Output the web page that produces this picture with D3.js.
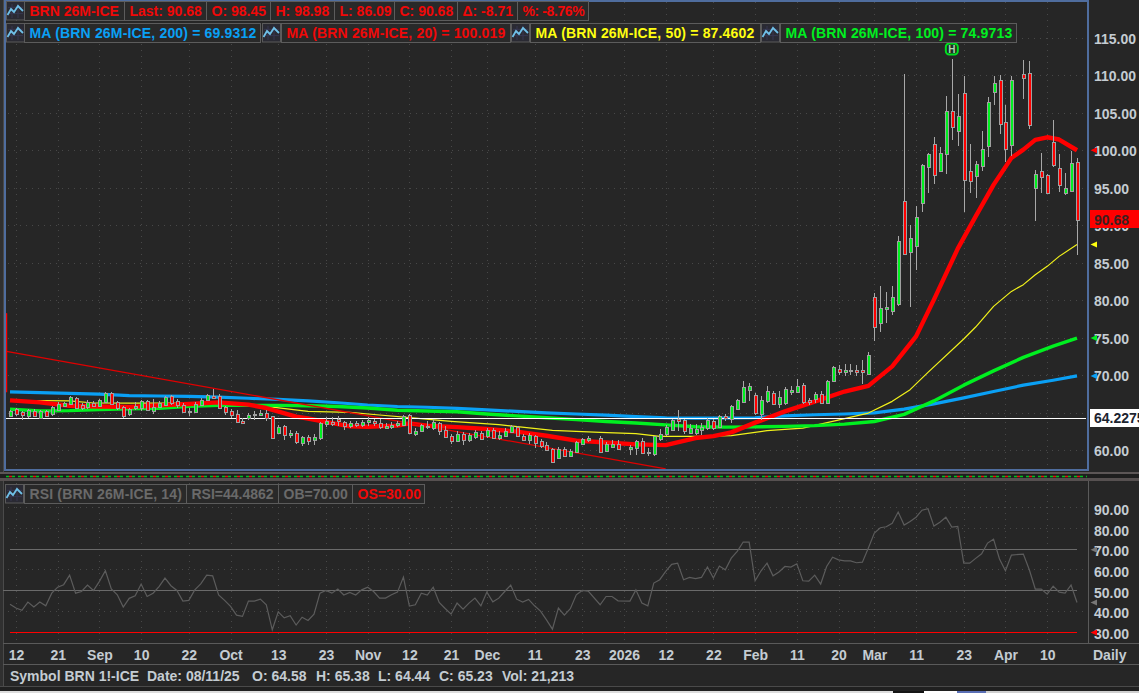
<!DOCTYPE html>
<html><head><meta charset="utf-8">
<style>html,body{margin:0;padding:0;background:#262626;overflow:hidden}svg{display:block}text{font-family:"Liberation Sans",Arial,sans-serif;font-weight:700;font-size:14px}</style>
<script src="https://cdn.jsdelivr.net/npm/d3@7"></script></head><body><svg id="c" width="1139" height="693"></svg>
<script>
const opens=[64.58,65.52,65.12,64.63,65.25,64.36,65.29,64.80,65.43,66.0,
66.23,66.98,66.09,65.83,66.32,65.87,66.49,67.65,66.45,65.78,
64.80,65.65,65.65,66.58,65.20,65.87,66.14,67.20,66.54,66.09,
65.16,65.12,66.0,66.72,67.29,67.20,65.74,65.25,64.85,63.92,
64.32,64.72,64.72,64.98,64.54,62.32,63.2,62.0,62.32,60.98,
61.78,61.34,61.6,63.47,63.74,64.18,63.74,63.29,63.61,63.34,
63.87,63.92,63.65,63.07,63.07,63.34,63.43,64.72,62.14,62.54,
63.12,63.07,63.65,62.76,61.96,61.30,62.23,61.43,61.79,62.32,
61.96,62.76,61.65,61.96,62.45,63.12,61.96,61.43,61.96,61.30,
60.76,60.23,58.99,60.23,59.21,59.83,60.90,61.34,null,61.70,
60.01,60.54,60.90,null,60.23,60.36,61.30,59.65,59.43,61.47,
62.23,62.67,64.19,64.10,62.41,62.41,62.67,62.98,63.96,63.07,
64.58,64.27,65.60,66.54,68.09,67.43,64.80,66.67,67.69,66.18,
66.36,67.83,67.74,68.76,66.76,66.94,67.56,66.32,69.25,70.89,
70.40,70.54,70.72,70.72,70.27,80.45,76.98,78.94,78.54,79.56,
93.25,86.45,87.2,92.98,97.78,100.80,97.2,99.52,105.25,102.54,
107.65,97.25,96.58,97.87,100.58,107.78,109.38,103.74,100.67,null,
110.18,110.32,94.98,97.25,96.72,101.07,97.65,94.32,94.54,98.45];
const closes=[65.23,64.80,64.67,65.38,64.63,65.25,64.63,65.78,66.23,66.36,
67.16,65.69,65.74,66.45,65.87,66.72,67.65,66.18,65.60,64.63,
65.47,65.96,66.58,65.38,65.78,66.36,67.16,66.32,66.0,65.12,
65.29,66.18,66.72,67.38,67.07,65.65,65.12,64.67,63.78,63.65,
64.76,64.89,64.98,64.32,61.65,63.07,62.0,62.32,61.07,61.78,
61.2,61.78,63.65,63.87,63.47,63.92,63.16,63.65,63.34,63.79,
64.10,63.61,63.07,63.30,63.39,63.65,64.63,62.32,62.58,63.34,
63.30,63.83,62.54,61.87,61.34,62.23,61.43,62.10,62.45,61.52,
62.76,61.65,62.10,62.63,63.21,61.87,61.43,62.10,61.07,60.68,
60.05,58.54,60.23,59.34,59.92,61.16,61.56,61.61,null,59.87,
60.90,60.90,60.23,null,60.45,61.25,59.74,59.83,61.87,62.19,
63.12,64.01,63.92,62.67,63.03,62.90,63.07,64.09,63.07,64.54,
64.32,65.96,66.76,68.49,68.58,64.98,66.72,67.96,66.27,67.16,
68.23,68.09,68.58,66.54,66.54,67.56,66.40,69.25,71.12,70.54,
70.72,70.72,70.45,70.40,72.76,76.45,78.98,79.16,80.45,87.92,
86.18,88.32,91.12,98.09,99.52,96.72,99.65,105.25,103.12,104.58,
96.05,95.92,98.14,100.18,106.45,108.98,103.52,100.18,109.38,null,
109.65,103.34,96.85,96.45,94.32,98.0,95.34,94.98,98.32,90.68];
const highs=[65.38,65.65,65.29,65.52,65.52,65.43,65.43,65.87,66.40,66.49,
67.29,67.07,66.32,66.76,66.63,66.85,67.83,67.83,66.63,65.96,
65.65,66.40,66.76,66.72,66.85,66.63,67.29,67.34,66.85,66.32,
65.65,66.40,66.98,67.52,68.23,67.56,65.96,65.47,65.34,64.32,
64.98,65.20,65.34,65.34,64.63,63.43,63.34,62.76,62.63,61.87,
62.09,62.23,63.74,64.45,64.45,64.54,63.92,63.87,63.87,64.01,
64.45,64.23,64.19,63.65,63.74,63.92,64.76,64.81,62.99,63.56,
63.87,64.19,63.79,63.21,62.23,62.54,62.41,62.32,62.67,62.54,
62.99,62.99,62.54,62.99,63.39,63.30,62.23,62.32,62.10,61.52,
61.07,60.32,60.41,60.41,60.19,61.30,61.70,61.87,null,61.87,
61.07,61.43,61.34,null,60.76,61.43,61.65,60.32,61.96,62.90,
63.43,64.19,65.43,64.23,63.56,63.52,63.65,64.32,64.18,64.76,
64.80,66.09,66.89,69.29,68.98,67.65,67.2,68.63,67.96,67.96,
68.45,68.54,69.56,68.98,66.98,67.78,67.87,69.43,71.29,71.43,
71.56,71.56,71.43,72.09,73.16,80.98,81.96,81.12,81.96,88.54,
110.23,90.09,92.54,98.23,99.65,101.78,100.45,107.2,112.23,107.56,
109.96,100.89,98.63,102.63,107.12,109.87,110.09,106.09,109.96,null,
112.09,111.96,97.43,99.65,96.85,104.09,99.56,97.03,99.96,98.98];
const lows=[64.44,64.63,64.09,64.36,64.45,64.27,64.54,64.63,65.34,65.92,
66.09,65.65,65.34,65.52,65.78,65.74,66.40,66.05,65.43,64.36,
64.63,65.34,65.20,65.20,64.89,65.65,65.87,66.09,65.65,64.98,
64.63,64.98,65.87,66.54,66.85,65.52,64.76,64.32,63.65,63.56,
64.09,64.0,64.54,63.87,61.56,62.18,61.43,61.65,60.89,60.54,
60.76,60.76,61.43,63.07,63.2,63.29,62.76,62.98,63.07,63.16,
63.21,63.21,62.90,62.85,62.90,63.12,63.34,62.23,61.96,62.45,
62.90,62.76,62.10,61.65,60.90,61.12,60.68,61.07,61.52,61.34,
61.65,61.52,61.43,61.79,62.32,61.74,61.21,60.90,60.36,60.32,
59.87,58.50,58.85,59.21,59.12,59.65,60.76,61.12,null,59.79,
59.87,60.36,60.10,null,59.43,59.39,59.65,59.30,59.30,61.30,
61.87,62.54,62.54,62.23,62.23,62.10,62.09,62.67,62.76,62.98,
63.87,63.65,65.43,66.45,66.63,64.76,64.09,66.32,66.09,65.65,
66.09,67.43,67.65,66.18,66.09,66.32,66.23,66.23,69.2,70.09,
69.87,70.05,69.96,68.89,70.09,74.54,75.74,76.98,78.09,79.2,
86.09,79.07,84.0,91.74,94.32,95.47,97.2,96.8,101.43,100.54,
91.74,94.32,93.65,97.2,99.12,106.09,102.23,98.41,99.2,null,
106.89,102.85,90.54,94.32,94.23,97.74,94.49,94.05,94.54,86.09];
const rsi=[43.7,41.8,40.7,44.7,42.3,44.7,42.9,49.0,51.9,53.1,
57.7,49.0,49.8,52.9,50.3,54.7,59.8,51.0,48.2,42.3,
46.5,47.7,53.4,47.4,49.0,52.2,56.3,52.6,50.3,45.2,
45.5,50.6,53.5,57.7,57.4,48.2,45.5,42.6,38.4,37.8,
45.2,45.2,46.1,43.4,31.3,40.0,37.1,38.1,33.6,37.4,
35.8,38.9,49,50.3,49,51,48.1,49.4,48.1,50.6,
51.9,49.8,46.6,46.6,48.2,49.5,56.8,42.8,43.4,49,
48.1,51.9,44.5,41.6,38.9,44.2,41.3,44.2,46.6,42.9,
49.5,44.8,46.6,49.8,52.9,46.1,44.7,46,42.9,40.3,
36.1,31.6,41.8,38.4,41.5,48.2,50.3,50,null,43.4,
47.4,47.4,45.3,null,45.2,50.6,44.2,42.9,53.9,55.5,
59.5,62.9,63.5,55.5,56.6,56,56.6,61.6,56.3,62.1,
60.3,65.9,69.2,73.7,73.7,55,59.8,63.5,57.4,59.2,
61.9,61.6,63.2,55,54.8,57.7,53.4,61.9,66.4,65.1,
64.6,64.6,63.7,64,70.8,78,80.6,81.1,82.8,88.2,
81.9,83.6,85.7,89.1,89.8,81.4,83.3,85.7,80.9,81.2,
63.5,63.5,65.8,68,73.2,75.1,65.5,59.8,67.4,null,
67.9,60.3,51,51,48.5,52.4,49.5,49,52.9,44.4862];

const maIdx=[0,5,10,15,20,25,30,35,40,45,50,55,60,65,70,75,80,85,90,95,100,105,110,115,120,125,130,135,140,145,150,155,160,165,170,175,179];
const ma200=[67.8,67.7,67.6,67.5,67.3,67.25,67.2,67.1,66.95,66.8,66.6,66.35,66.05,65.85,65.75,65.6,65.4,65.2,65.0,64.85,64.7,64.5,64.35,64.3,64.32,64.35,64.6,64.75,64.85,65.0,65.5,66.2,67.0,67.85,68.7,69.35,69.9312];
const ma100=[65.5,65.25,65.3,65.45,65.55,65.6,65.87,66.0,66.0,66.0,65.95,65.85,65.65,65.35,65.25,65.15,64.85,64.6,64.35,64.1,63.85,63.65,63.4,63.15,63.1,63.13,63.2,63.3,63.5,63.85,64.8,66.6,68.7,70.6,72.4,73.9,74.9713];
const ma20Idx=[0,5,10,15,20,25,30,35,40,43,48,50,55,57,60,65,67,70,75,80,85,90,95,100,105,110,115,118,121,125,130,135,140,144,148,152,155,159,162,165,168,170,172,174,176,179];
const ma20=[66.67,66.4,65.95,65.85,65.8,66.0,66.18,66.4,66.1,65.65,64.5,64.25,63.5,63.2,63.15,63.3,63.6,63.3,63.1,62.85,62.5,61.95,61.3,61.05,60.8,60.7,61.65,61.9,62.4,63.7,65.2,66.5,67.85,68.6,71.2,75.2,80.1,86.9,91.2,95.4,99.0,100.1,101.4,101.75,101.45,100.019];
const ma50Idx=[0,5,10,14,20,30,34,43,50,57,62,68,74,82,91,99,105,109,116,121,127,133,138,144,148,151,154,160,162,165,168,170,172,174,176,179];
const ma50=[66.63,66.65,66.6,66.32,66.3,66.3,66.4,65.87,65.2,65.07,64.72,64.3,63.87,63.43,62.67,62.41,62.23,61.87,61.87,61.96,62.63,62.98,63.87,64.98,66.54,68.1,70.4,74.85,76.45,79.2,81.2,82.1,83.43,84.54,85.87,87.4602];
const trendIdx=[-0.6,110], trendVal=[73.2,57.55];
const vertIdx=[-0.6,-0.6], vertVal=[78.3,67.75];
const lastLine=64.2275, lastClose=90.68, highBar=158;

const priceTicks=[60,65,70,75,80,85,90,95,100,105,110,115];
const priceLabelTicks=[60,70,75,80,85,90,95,100,105,110,115];
const rsiTicks=[30,40,50,60,70,80,90];
const dateIdx=[1,8,15,22,30,37,45,53,60,67,74,80,88,96,103,110,118,125,132,139,145,152,160,167,174];
const dateLabels=["12","21","Sep","10","22","Oct","13","23","Nov","12","21","Dec","11","23","2026","12","22","Feb","11","20","Mar","11","23","Apr","10"];
const row1=["BRN 26M-ICE","Last: 90.68","O: 98.45","H: 98.98","L: 86.09","C: 90.68","Δ: -8.71","%: -8.76%"];
const row2=["MA (BRN 26M-ICE, 200) = 69.9312","MA (BRN 26M-ICE, 20) = 100.019","MA (BRN 26M-ICE, 50) = 87.4602","MA (BRN 26M-ICE, 100) = 74.9713"];
const row3=["RSI (BRN 26M-ICE, 14)","RSI=44.4862","OB=70.00","OS=30.00"];
const statusParts=["Symbol BRN 1!-ICE","Date: 08/11/25","O: 64.58","H: 65.38","L: 64.44","C: 65.23","Vol: 21,213"];

const RED="#ff0000",GRN="#00ee22",BLU="#0aa0f5",YEL="#ffff10";
const svg=d3.select("#c");
const x=d3.scaleLinear().domain([0,179]).range([10,1077]);
const y=d3.scaleLinear().domain([60,115]).range([450.4,37.9]);
const yr=d3.scaleLinear().domain([30,90]).range([632.5,508.3]);
const bars=d3.range(180).filter(i=>opens[i]!=null);

// window chrome
svg.append("rect").attr("width",1139).attr("height",693).attr("fill","#262626");
const chrome=(a,b,w,h,f)=>svg.append("rect").attr("x",a).attr("y",b).attr("width",w).attr("height",h).attr("fill",f).attr("shape-rendering","crispEdges");
chrome(0,0,3,690,"#303030");chrome(3,0,1,690,"#4a4a4a");
chrome(0,472,1139,2,"#5c5656");chrome(0,474,1139,5,"#1e1e1e");chrome(0,478,1139,3,"#565050");
chrome(3,643,1136,1,"#5a5a5a");chrome(3,664,1136,1,"#5a5a5a");chrome(0,686,1139,1,"#4a4a4a");chrome(0,687,1139,4,"#202020");
chrome(0,691,893,2,"#dcdcdc");chrome(893,691,31,2,"#151515");chrome(924,691,33,2,"#ffffff");chrome(957,691,29,2,"#5a6fb5");chrome(986,691,153,2,"#cfcfcf");

// grids
const grid=svg.append("g").attr("stroke","#484848").attr("stroke-width",1).attr("stroke-dasharray","1 5").attr("shape-rendering","crispEdges");
priceTicks.forEach(t=>grid.append("line").attr("x1",8).attr("x2",1086).attr("y1",Math.round(y(t))+.5).attr("y2",Math.round(y(t))+.5));
[40,60,80,90].forEach(t=>grid.append("line").attr("x1",8).attr("x2",1086).attr("y1",Math.round(yr(t))-.5).attr("y2",Math.round(yr(t))-.5));
dateIdx.forEach(i=>{const p=Math.round(x(i))+.5;
 grid.append("line").attr("x1",p).attr("x2",p).attr("y1",2).attr("y2",468);
 grid.append("line").attr("x1",p).attr("x2",p).attr("y1",483).attr("y2",642);});

// moving averages
const maLine=(idx,val,c,w)=>svg.append("path").datum(idx.map((d,k)=>[d,val[k]])).attr("fill","none").attr("stroke",c).attr("stroke-width",w).attr("stroke-linejoin","round")
  .attr("d",d3.line().x(d=>x(d[0])).y(d=>y(d[1])));
maLine(maIdx,ma200,BLU,3.2);
maLine(ma50Idx,ma50,"#f2f21a",1.2);
maLine(maIdx,ma100,"#00f020",3.4);
maLine(ma20Idx,ma20,RED,4.4);
// trend annotations
maLine(trendIdx,trendVal,"#e00000",1.3);
maLine(vertIdx,vertVal,RED,1.6);
// last line
svg.append("line").attr("x1",6).attr("x2",1086).attr("y1",418.5).attr("y2",418.5).attr("stroke","#fff").attr("stroke-width",1).attr("shape-rendering","crispEdges");

// candles
const cg=svg.append("g").attr("shape-rendering","crispEdges");
cg.selectAll("line").data(bars).join("line").attr("x1",i=>Math.round(x(i))+.5).attr("x2",i=>Math.round(x(i))+.5)
  .attr("y1",i=>y(highs[i])).attr("y2",i=>y(lows[i])).attr("stroke","#a8a8a8").attr("stroke-width",1);
cg.selectAll("rect").data(bars).join("rect").attr("x",i=>Math.round(x(i))-1).attr("width",3)
  .attr("y",i=>Math.round(y(Math.max(opens[i],closes[i])))+.5).attr("height",i=>Math.max(1,Math.round(Math.abs(opens[i]-closes[i])*7.5)))
  .attr("fill",i=>closes[i]>=opens[i]?"#00f020":"#ff0000").attr("stroke","#a0a0a0").attr("stroke-width",1);

// H marker
const hx=x(highBar);
svg.append("rect").attr("x",hx-6).attr("y",43.5).attr("width",12).attr("height",11).attr("rx",3.5).attr("fill","#1e2a20").attr("stroke","#00e020").attr("stroke-width",2);
svg.append("text").attr("x",hx).attr("y",53).attr("text-anchor","middle").attr("fill","#a8d8b0").style("font-size","10px").text("H");

// chart frame
svg.append("rect").attr("x",5).attr("y",1).attr("width",1082.5).attr("height",469).attr("fill","none").attr("stroke","#4f6d9e").attr("stroke-width",2).attr("shape-rendering","crispEdges");
chrome(1088,481,1,162,"#5a5a5a");
// dashed strip
svg.append("line").attr("x1",6).attr("x2",1087).attr("y1",476.5).attr("y2",476.5).attr("stroke","#00c020").attr("stroke-width",1.4).attr("stroke-dasharray","3 3");
svg.append("line").attr("x1",9).attr("x2",1087).attr("y1",476.5).attr("y2",476.5).attr("stroke","#e01010").attr("stroke-width",1.4).attr("stroke-dasharray","3 9");

// price axis
const axP=svg.append("g").attr("transform","translate(1088,0)").call(d3.axisRight(y).tickValues(priceLabelTicks).tickSize(0).tickPadding(6).tickFormat(d=>d3.format(".2f")(d)));
const axR=svg.append("g").attr("transform","translate(1088,0)").call(d3.axisRight(yr).tickValues(rsiTicks).tickSize(0).tickPadding(6).tickFormat(d=>d3.format(".2f")(d)));
const axX=svg.append("g").attr("transform","translate(0,643)").call(d3.axisBottom(x).tickValues(dateIdx).tickSize(0).tickPadding(5).tickFormat(d=>dateLabels[dateIdx.indexOf(d)]));
[axP,axR,axX].forEach(a=>{a.select(".domain").remove();a.selectAll("text").attr("fill","#c4ccd2").style("font-family",'"Liberation Sans",Arial,sans-serif').style("font-weight",700).style("font-size","14px");});
axP.selectAll("text").attr("dy","0.38em");
axR.selectAll("text").attr("dy","0.43em");
axX.selectAll("text").attr("y",16.5).attr("dy",0);
svg.append("text").attr("x",1093).attr("y",659.5).attr("fill","#c4ccd2").text("Daily");

// last price boxes
chrome(1090,210,49,18,RED);
svg.append("text").attr("x",1094).attr("y",y(lastClose)+4.4).attr("fill","#3a2020").text(d3.format(".2f")(lastClose));
chrome(1090,409,49,18,"#ffffff");
svg.append("text").attr("x",1094).attr("y",423).attr("fill","#1c2430").text(String(lastLine));

// value arrows
const arrow=(py,c)=>svg.append("path").attr("d",`M1090.5,${py}L1097,${py-3}L1097,${py+3}Z`).attr("fill",c);
arrow(y(ma20[ma20.length-1]),RED);arrow(y(ma50[ma50.length-1]),YEL);arrow(y(ma100[ma100.length-1]),"#00f020");arrow(y(ma200[ma200.length-1]),BLU);

// RSI
[[50,3],[70,10]].forEach(([v,a])=>svg.append("line").attr("x1",a).attr("x2",1077).attr("y1",Math.round(yr(v))-.5).attr("y2",Math.round(yr(v))-.5).attr("stroke","#6a6a6a").attr("shape-rendering","crispEdges"));
svg.append("line").attr("x1",10).attr("x2",1077).attr("y1",yr(30)).attr("y2",yr(30)).attr("stroke",RED).attr("stroke-width",1.5).attr("shape-rendering","crispEdges");
svg.append("path").datum(d3.range(180).filter(i=>rsi[i]!=null)).attr("fill","none").attr("stroke","#5c5c5c").attr("stroke-width",1.2)
  .attr("d",d3.line().x(i=>x(i)).y(i=>yr(rsi[i])));
arrow(yr(70),"#777");arrow(yr(rsi[179]),"#777");arrow(yr(30),RED);

// legend chips
function icon(gx,gy){const g=svg.append("g");
 g.append("rect").attr("x",gx+.5).attr("y",gy+.5).attr("width",18).attr("height",18.5).attr("fill","#2a2a33").attr("stroke","#5a5a5a");
 for(let k=1;k<3;k++){g.append("line").attr("x1",gx+k*6).attr("x2",gx+k*6).attr("y1",gy+3).attr("y2",gy+17).attr("stroke","#363650");g.append("line").attr("x1",gx+2).attr("x2",gx+17).attr("y1",gy+k*6.3).attr("y2",gy+k*6.3).attr("stroke","#363650");}
 g.append("path").attr("d",`M${gx+1.5},${gy+14}L${gx+5},${gy+8}L${gx+8},${gy+11}L${gx+12},${gy+5}L${gx+17},${gy+10}`).attr("fill","none").attr("stroke","#6fc0e8").attr("stroke-width",1.8);}
function chip(a,b,top,h,t,c,ls){
 svg.append("rect").attr("x",a+.5).attr("y",top+.5).attr("width",b-a).attr("height",h).attr("fill","#292929").attr("stroke","#5c5c5c").attr("shape-rendering","crispEdges");
 svg.append("text").attr("x",a+5.5).attr("y",top+15).attr("fill",c).style("letter-spacing",(ls||0)+"px").text(t);}
icon(6,1);
const r1x=[24,124,206,270,334,394,457,517,588];
row1.forEach((t,k)=>chip(r1x[k],r1x[k+1],1,18.5,t,"#f00808",k==7?-0.4:0));
const r2=[[6,24,260],[262,281,510],[511,530,760],[761,780,1016]];const r2c=[BLU,"#f00808",YEL,"#00f020"];
row2.forEach((t,k)=>{icon(r2[k][0],23);chip(r2[k][1],r2[k][2],23,19,t,r2c[k],0.17);});
icon(5,484);
const r3x=[24,186,278,352,424];
row3.forEach((t,k)=>chip(r3x[k],r3x[k+1],484,19,t,k==3?"#f00808":"#6a6a6a",k==0?0.15:0));

// status bar
const statusX=[10,147,252,316,378,439,502];
statusParts.forEach((t,k)=>svg.append("text").attr("x",statusX[k]).attr("y",681).attr("fill","#c4ccd2").text(t));
</script></body></html>
